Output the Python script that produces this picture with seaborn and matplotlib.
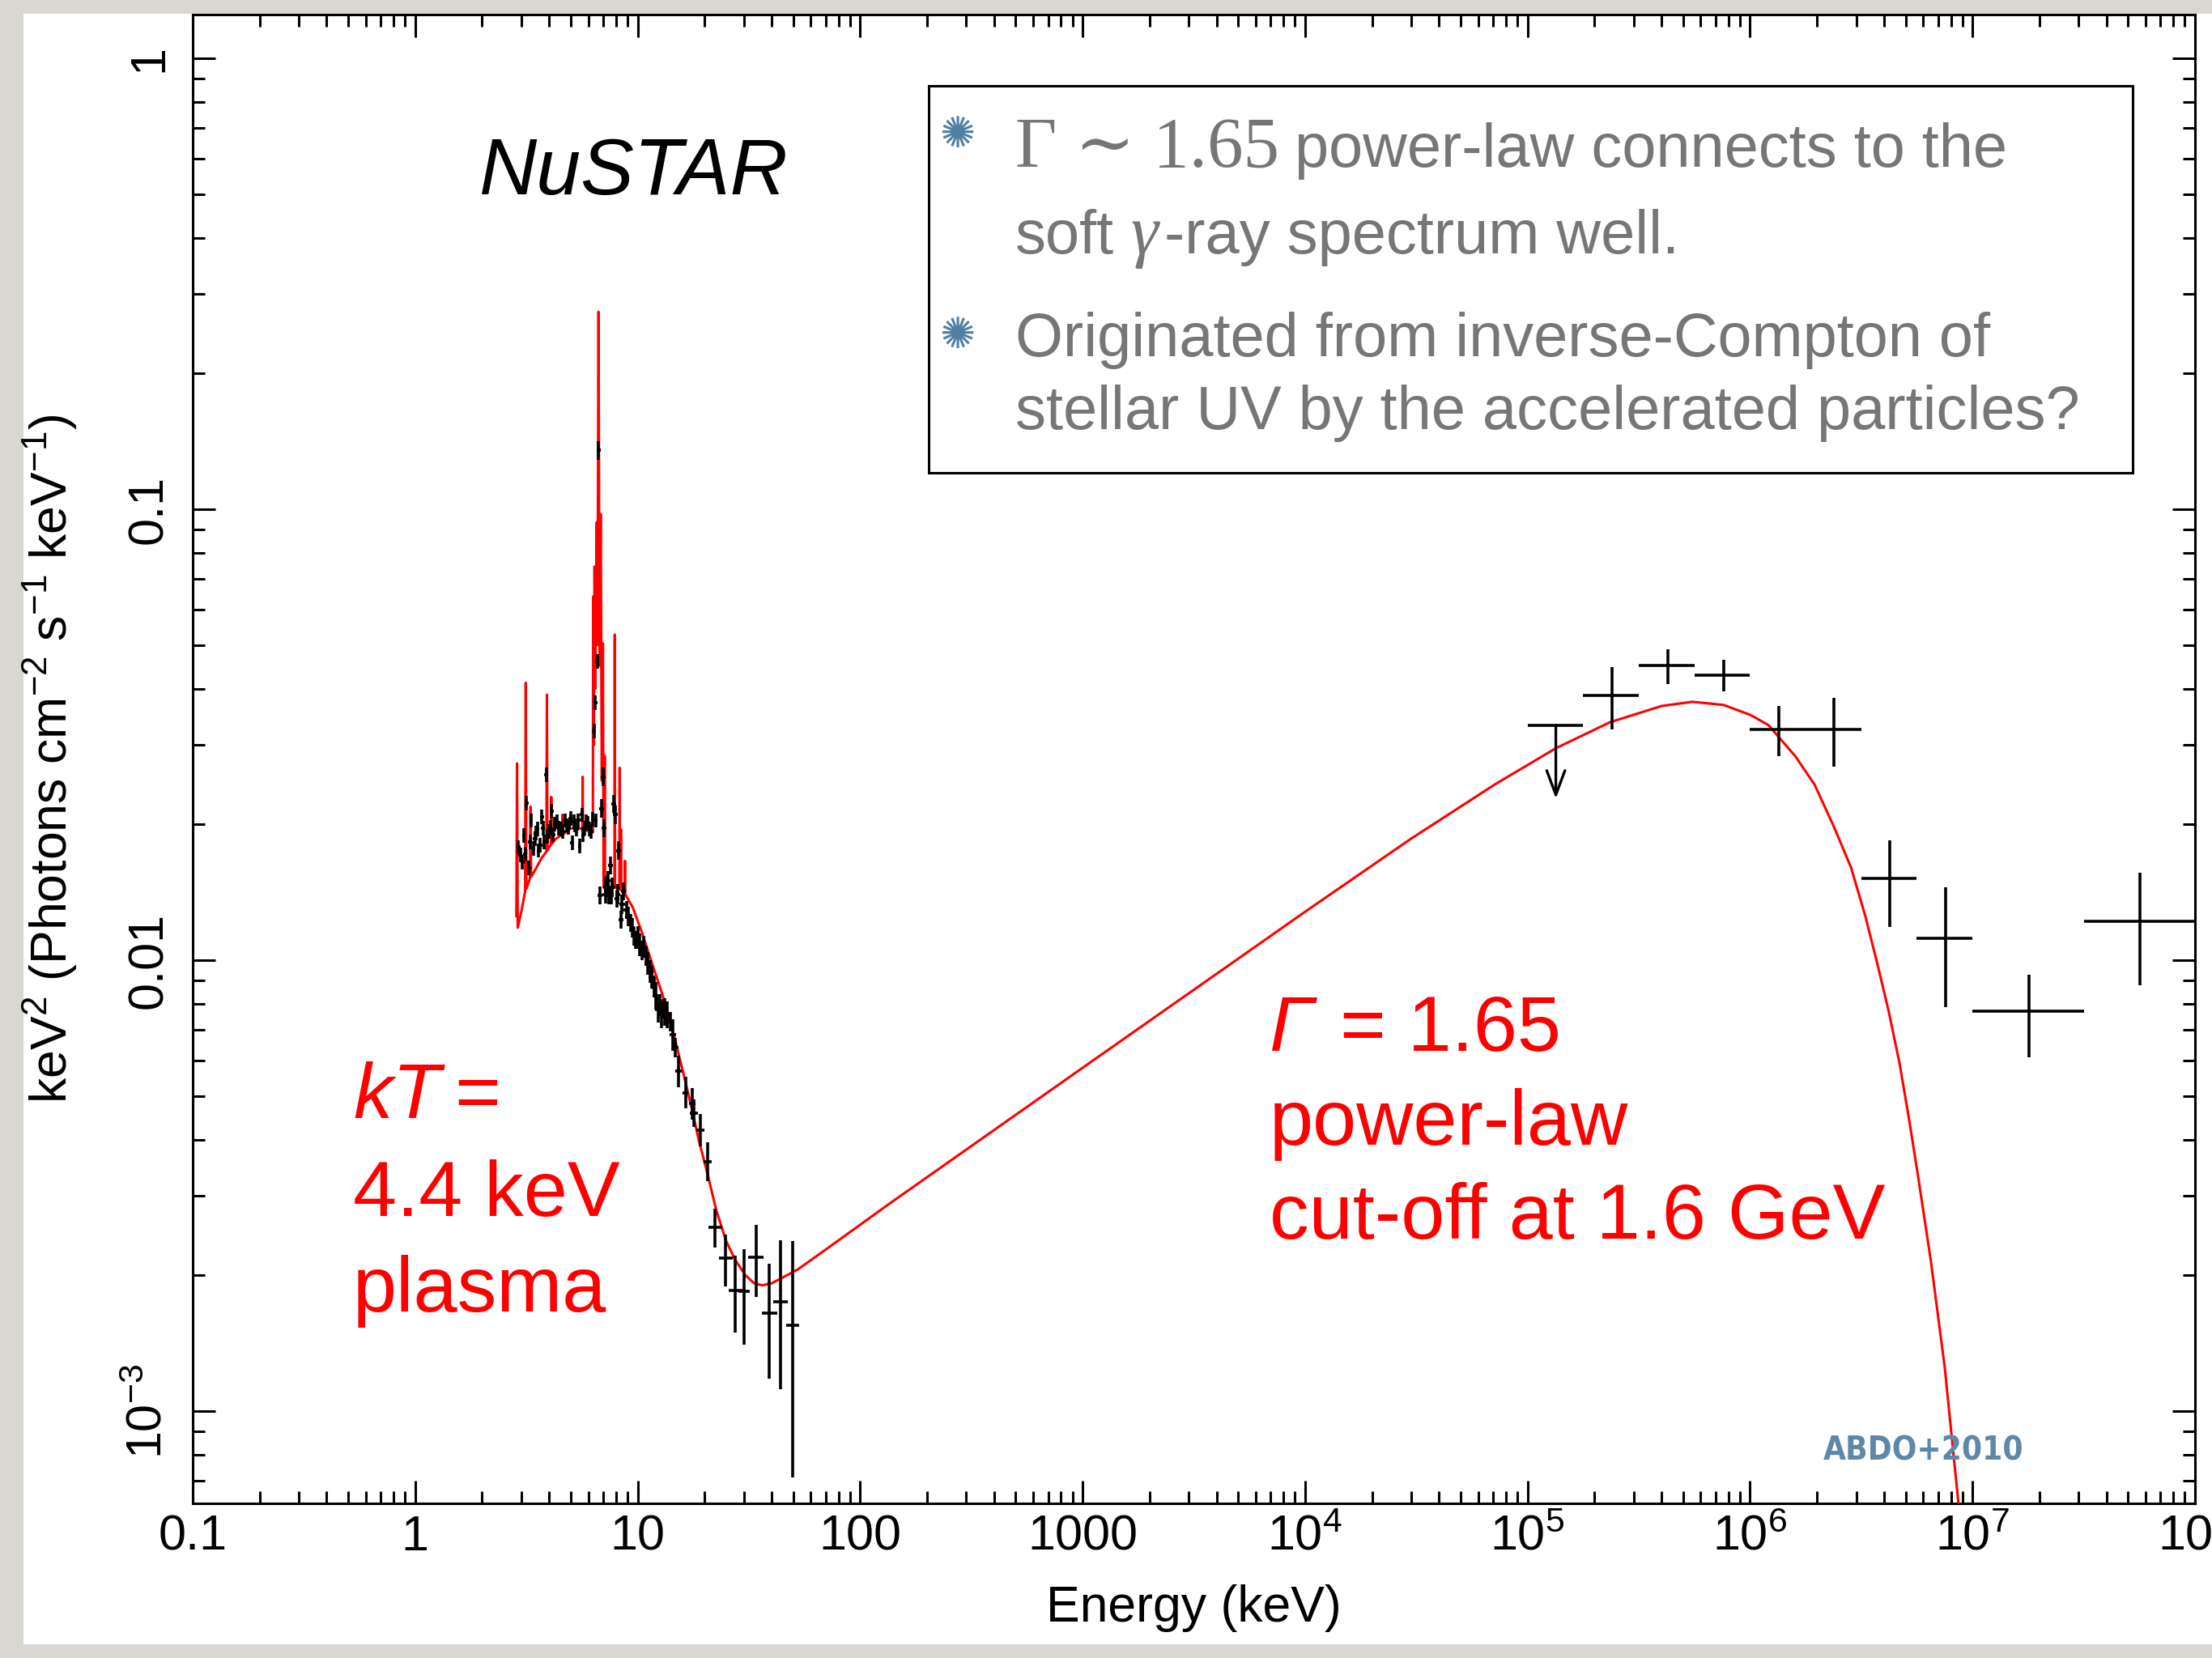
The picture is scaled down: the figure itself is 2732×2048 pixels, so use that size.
import numpy as np
import pandas as pd
import matplotlib
matplotlib.use("Agg")
import matplotlib.pyplot as plt
import seaborn as sns
from matplotlib import ticker, font_manager
from matplotlib.patches import Rectangle

# ---------------- data ----------------
# NuSTAR spectrum, module A (keV, keV^2 photons cm^-2 s^-1 keV^-1)
nu_E = [2.91, 2.97, 3.08, 3.17, 3.24, 3.32, 3.40, 3.49, 3.59, 3.71, 3.80, 3.88, 3.99, 4.10,
        4.25, 4.43, 4.61, 4.81, 4.99, 5.09, 5.24, 5.49, 5.61, 5.77, 5.97, 6.19, 6.37, 6.45,
        6.49, 6.58, 6.67, 6.78, 6.91, 6.98, 7.08, 7.15, 7.31, 7.42, 7.52, 7.62, 7.80, 7.94,
        8.05, 8.24, 8.41, 8.65, 8.89, 9.27, 9.59, 9.80, 9.94, 10.2, 10.66, 11.1, 11.4, 11.6,
        12.1, 12.4, 12.8, 13.2, 13.6, 14.4, 15.3, 16.4, 17.6, 17.9, 19.2, 20.6, 22.3, 24.9,
        27.5, 30.1, 34.0, 39.1, 43.9, 49.6]
nu_F = [0.0178, 0.0171, 0.0189, 0.0223, 0.0160, 0.0204, 0.0177, 0.0191, 0.0175, 0.0208,
        0.0183, 0.0258, 0.0193, 0.0214, 0.0200, 0.0196, 0.0193, 0.0199, 0.0206, 0.0182,
        0.0199, 0.0179, 0.0210, 0.0196, 0.0201, 0.0193, 0.0322, 0.0372, 0.0204, 0.0459,
        0.135, 0.0139, 0.0217, 0.0255, 0.0196, 0.0140, 0.0147, 0.0139, 0.0162, 0.0139,
        0.0222, 0.0210, 0.0137, 0.0175, 0.0123, 0.0142, 0.0129, 0.0121, 0.0113, 0.0111,
        0.0111, 0.0108, 0.0107, 0.00984, 0.00944, 0.00918, 0.00834, 0.00778, 0.00757,
        0.00768, 0.00757, 0.00683, 0.00567, 0.00508, 0.00480, 0.00458, 0.00419, 0.00357,
        0.00256, 0.00218, 0.00185, 0.00184, 0.00219, 0.00165, 0.00175, 0.00155]
# half bin widths (dex) and error bar extents (dex)
nu_dlogE = ([0.009] * 31 + [0.011] * 20 + [0.014] * 14 + [0.018] * 3 +
            [0.030, 0.030, 0.030, 0.027, 0.036, 0.034, 0.033, 0.029])
nu_dlogF_up = ([0.016] * 30 + [0.02] + [0.02] * 20 + [0.025] * 5 + [0.03] * 5 + [0.035] * 4 +
               [0.031, 0.036, 0.043, 0.040, 0.053, 0.077, 0.095, 0.072, 0.110, 0.135, 0.186])
nu_dlogF_dn = ([0.016] * 30 + [0.02] + [0.02] * 20 + [0.025] * 5 + [0.03] * 5 + [0.035] * 4 +
               [0.031, 0.036, 0.043, 0.045, 0.063, 0.093, 0.118, 0.088, 0.145, 0.195, 0.337])

# NuSTAR module B (dense band, 3-15 keV)
fpmb_E = [3.03, 3.13, 3.28, 3.45, 3.54, 3.65, 3.75, 3.94, 4.05, 4.17, 4.34, 4.52, 4.71, 4.90,
          5.16, 5.33, 5.41, 5.69, 5.87, 6.08, 6.28, 7.20, 7.37, 7.70, 8.15, 8.52, 9.05, 9.45,
          10.0, 10.45, 10.9, 11.85, 12.6, 13.0, 14.0, 14.8]
fpmb_F = [0.0165, 0.0172, 0.0183, 0.0186, 0.0195, 0.0180, 0.0196, 0.0188, 0.0197, 0.0190,
          0.0203, 0.0195, 0.0204, 0.0197, 0.0203, 0.0195, 0.0204, 0.0190, 0.0203, 0.0195,
          0.0205, 0.0145, 0.0150, 0.0145, 0.0140, 0.0133, 0.0125, 0.0118, 0.0113, 0.0105,
          0.0102, 0.0087, 0.0080, 0.0078, 0.0073, 0.0064]
fpmb_dlogE = [0.009] * 21 + [0.012] * 15
fpmb_dlogF = [0.016] * 21 + [0.022] * 15

# Fermi-LAT points
fermi_E = [2.40e5, 4.28e5, 7.6e5, 1.35e6, 2.39e6, 4.26e6, 7.56e6, 1.80e7, 5.65e7]
fermi_Elo = [1.78e5, 3.16e5, 5.62e5, 1.0e6, 1.78e6, 3.16e6, 5.62e6, 1.0e7, 3.16e7]
fermi_Ehi = [3.16e5, 5.62e5, 1.0e6, 1.78e6, 3.16e6, 5.62e6, 1.0e7, 3.16e7, 1.0e8]
fermi_F = [0.0387, 0.0450, 0.0429, 0.0325, 0.0325, 0.0152, 0.0112, 0.00769, 0.01221]
fermi_Flo = [0.0325, 0.0409, 0.0394, 0.0283, 0.0268, 0.01186, 0.00785, 0.00608, 0.00881]
fermi_Fhi = [0.0447, 0.0490, 0.0464, 0.0366, 0.0381, 0.01845, 0.01452, 0.00927, 0.01563]
# upper limit
ul_E, ul_Elo, ul_Ehi = 1.34e5, 1.0e5, 1.78e5
ul_F, ul_Ftip = 0.0332, 0.0228

# model curve (red)
model_E = [2.85, 2.87, 2.89, 3.0, 3.12, 3.14, 3.16, 3.21, 3.28, 3.30, 3.32, 3.5, 3.69, 3.89,
           3.91, 3.93, 4.0, 4.07, 4.09, 4.11, 4.25, 4.57, 4.59, 4.61, 5.02, 5.5, 5.64, 5.66,
           5.68, 6.10, 6.29, 6.31, 6.36, 6.40, 6.45, 6.55, 6.60, 6.67, 6.74, 6.82, 6.90, 6.98,
           7.03, 7.09, 7.11, 7.13, 7.5, 7.87, 7.89, 7.91, 8.0, 8.28, 8.30, 8.32, 8.39, 8.41,
           8.43, 8.65, 8.75, 8.77, 8.79, 9.5, 10.4, 11.6, 12.97, 14.5, 16.2, 17.4, 18.8, 20.6,
           22.6, 25.0, 27.5, 30.5, 33.4, 36.3, 40.0, 44.3, 52.4, 70.0, 135.0, 1.0e3, 1.0e4,
           3.0e4, 7.2e4, 1.34e5, 2.35e5, 4.0e5, 5.5e5, 7.6e5, 1.0e6, 1.21e6, 1.6e6, 1.95e6,
           2.4e6, 2.85e6, 3.3e6, 3.7e6, 4.2e6, 4.7e6, 5.2e6, 5.7e6, 6.5e6, 7.5e6, 8.6e6, 9.5e6]
model_F = [0.0125, 0.0273, 0.0118, 0.0128, 0.0142, 0.0412, 0.0144, 0.0147, 0.0152, 0.0219,
           0.0153, 0.0160, 0.0168, 0.0174, 0.0388, 0.0175, 0.0178, 0.0180, 0.0230, 0.0181,
           0.0185, 0.0190, 0.0210, 0.0190, 0.0196, 0.0196, 0.0195, 0.0255, 0.0195, 0.0193,
           0.0192, 0.064, 0.030, 0.0746, 0.040, 0.0936, 0.050, 0.274, 0.045, 0.0975, 0.025,
           0.0504, 0.0145, 0.0145, 0.0284, 0.0145, 0.0145, 0.0145, 0.0527, 0.0145, 0.0145,
           0.0144, 0.0267, 0.0144, 0.0144, 0.0195, 0.0143, 0.0142, 0.0141, 0.0166, 0.0140,
           0.0131, 0.0116, 0.00984, 0.00834, 0.00687, 0.0055, 0.00475, 0.0040, 0.00336,
           0.00278, 0.00238, 0.00216, 0.00200, 0.00192, 0.00190, 0.00192, 0.00197, 0.00206,
           0.00228, 0.00288, 0.00577, 0.0128, 0.0186, 0.0246, 0.0295, 0.0337, 0.0366, 0.0374,
           0.0368, 0.0350, 0.0332, 0.0283, 0.0245, 0.0196, 0.0160, 0.0125, 0.0100, 0.0077,
           0.0059, 0.0044, 0.0033, 0.00215, 0.00125, 0.00064, 0.00035]

x_tick_vals = [0.1, 1, 10, 100, 1000, 1e4, 1e5, 1e6, 1e7, 1e8]
x_tick_labels = ["0.1", "1", "10", "100", "1000", r"$10^{4}$", r"$10^{5}$", r"$10^{6}$",
                 r"$10^{7}$", r"$10^{8}$"]
y_tick_vals = [1e-3, 0.01, 0.1, 1]
y_tick_labels = [r"$10^{-3}$", "0.01", "0.1", "1"]

# ---------------- styling ----------------
sns.set_theme(style="ticks")
plt.rcParams["font.family"] = ["Liberation Sans", "DejaVu Sans"]
plt.rcParams["mathtext.fontset"] = "custom"
plt.rcParams["mathtext.rm"] = "Liberation Sans"
plt.rcParams["mathtext.it"] = "Liberation Sans:italic"
plt.rcParams["mathtext.bf"] = "Liberation Sans:bold"

# condensed bold face for the citation, if one is installed
abdo_kw = dict(family=["Liberation Sans", "DejaVu Sans"], fontsize=28)
for f in font_manager.fontManager.ttflist:
    if f.name == "Liberation Sans Narrow":
        abdo_kw = dict(family=["Liberation Sans Narrow", "DejaVu Sans"], fontsize=35)
        break
    if f.name == "DejaVu Sans" and f.stretch == "condensed" and f.weight in (700, "bold"):
        abdo_kw = dict(family=["DejaVu Sans"], fontstretch="condensed", fontsize=29)

W, H = 2732, 2048
fig = plt.figure(figsize=(W / 100, H / 100), dpi=100, facecolor="#d9d7d2")


def fx(x):
    return x / W


def fy(y):
    return 1 - y / H


fig.patches.append(Rectangle((fx(29), fy(2031)), 1 - fx(29), fy(17) - fy(2031),
                             transform=fig.transFigure, facecolor="white",
                             edgecolor="none", zorder=-5))

ax = fig.add_axes([fx(238), fy(1857), fx(2711) - fx(238), fy(18) - fy(1857)])
ax.set_facecolor("white")
ax.set_xscale("log")
ax.set_yscale("log")
ax.set_xlim(0.1, 1e8)
ax.set_ylim(6.24e-4, 1.25)

# model
model_df = pd.DataFrame({"E": model_E, "F": model_F})
sns.lineplot(data=model_df, x="E", y="F", ax=ax, color="#ff0000", lw=2.2,
             sort=False, estimator=None, zorder=3, legend=False)

LW = 2.6
# NuSTAR data
for Es, Fs, dle, dfu, dfd in [(nu_E, nu_F, nu_dlogE, nu_dlogF_up, nu_dlogF_dn),
                              (fpmb_E, fpmb_F, fpmb_dlogE, fpmb_dlogF, fpmb_dlogF)]:
    E = np.array(Es)
    F = np.array(Fs)
    xerr = [E * (1 - 10 ** -np.array(dle)), E * (10 ** np.array(dle) - 1)]
    yerr = [F * (1 - 10 ** -np.array(dfd)), F * (10 ** np.array(dfu) - 1)]
    ax.errorbar(E, F, xerr=xerr, yerr=yerr, fmt="none", ecolor="black", elinewidth=LW,
                capsize=0, zorder=4)

# Fermi data
fE = np.array(fermi_E)
fF = np.array(fermi_F)
ax.errorbar(fE, fF,
            xerr=[fE - np.array(fermi_Elo), np.array(fermi_Ehi) - fE],
            yerr=[fF - np.array(fermi_Flo), np.array(fermi_Fhi) - fF],
            fmt="none", ecolor="black", elinewidth=LW, capsize=0, zorder=4)
ax.errorbar([ul_E], [ul_F], xerr=[[ul_E - ul_Elo], [ul_Ehi - ul_E]], fmt="none",
            ecolor="black", elinewidth=LW, capsize=0, zorder=4)
ax.annotate("", xy=(ul_E, ul_Ftip), xytext=(ul_E, ul_F),
            arrowprops=dict(arrowstyle="->,head_length=0.8,head_width=0.3", lw=2.4,
                            color="black", shrinkA=0, shrinkB=0, mutation_scale=27),
            zorder=4)

# axes cosmetics
for s in ax.spines.values():
    s.set_linewidth(2.2)
    s.set_color("black")
ax.xaxis.set_major_locator(ticker.FixedLocator(x_tick_vals))
ax.xaxis.set_major_formatter(ticker.FixedFormatter(x_tick_labels))
ax.xaxis.set_minor_locator(ticker.LogLocator(base=10, subs=np.arange(2, 10), numticks=30))
ax.xaxis.set_minor_formatter(ticker.NullFormatter())
ax.yaxis.set_major_locator(ticker.FixedLocator(y_tick_vals))
ax.yaxis.set_major_formatter(ticker.FixedFormatter(y_tick_labels))
ax.yaxis.set_minor_locator(ticker.LogLocator(base=10, subs=np.arange(2, 10), numticks=30))
ax.yaxis.set_minor_formatter(ticker.NullFormatter())
ax.tick_params(which="both", direction="in", top=True, right=True, color="black",
               width=2.2, labelcolor="black")
ax.tick_params(which="major", length=20, labelsize=44)
ax.tick_params(which="minor", length=10.5)
ax.tick_params(axis="x", which="major", pad=10)
ax.tick_params(axis="y", which="major", pad=18, labelrotation=90)
for lab in ax.get_yticklabels():
    lab.set_va("center")

ax.set_xlabel("Energy (keV)", fontsize=45, color="black", va="baseline")
ax.xaxis.set_label_coords(0.5, (1857 - 2003) / (1857 - 18))
ax.set_ylabel(r"keV$^2$ (Photons cm$^{-2}$ s$^{-1}$ keV$^{-1}$)", fontsize=45,
              color="black", va="baseline")
ax.yaxis.set_label_coords((83 - 238) / (2711 - 238), 0.5)

# annotations
fig.text(fx(592), fy(240), "NuSTAR", fontsize=71, style="italic", color="black",
         va="baseline", ha="left")

red = "#ff0000"
RS = 70
fig.text(fx(436), fy(1381), "kT", fontsize=RS, style="italic", color=red, va="baseline")
fig.text(fx(561), fy(1381), "=", fontsize=RS, color=red, va="baseline")
fig.text(fx(436), fy(1502), "4.4 keV", fontsize=RS, color=red, va="baseline")
fig.text(fx(436), fy(1620), "plasma", fontsize=RS, color=red, va="baseline")

fig.text(fx(1568), fy(1298), "\u0393", fontsize=RS, style="italic", color=red, va="baseline")
fig.text(fx(1655), fy(1298), "= 1.65", fontsize=RS, color=red, va="baseline")
fig.text(fx(1568), fy(1414), "power-law", fontsize=RS, color=red, va="baseline")
fig.text(fx(1568), fy(1530), "cut-off at 1.6 GeV", fontsize=RS, color=red, va="baseline")

fig.text(fx(2252), fy(1803), "ABDO+2010", fontweight="bold", color="#5f88a8",
         va="baseline", **abdo_kw)

# text box
fig.patches.append(Rectangle((fx(1147), fy(584)), fx(2634) - fx(1147), fy(106) - fy(584),
                             transform=fig.transFigure, facecolor="white",
                             edgecolor="black", lw=2.2, zorder=5))
gray = "#767676"
blue = "#4f7fa3"
serif = ["Liberation Serif", "DejaVu Serif"]
BS = 54.5
fig.text(fx(1182), fy(167), "\u273a", fontsize=38, color=blue, ha="center", va="center",
         family=["DejaVu Sans"], zorder=6)
fig.text(fx(1182), fy(415), "\u273a", fontsize=38, color=blue, ha="center", va="center",
         family=["DejaVu Sans"], zorder=6)
fig.text(fx(1254), fy(206), "\u0393 \u223c 1.65", fontsize=64, color=gray, family=serif,
         va="baseline", zorder=6)
fig.text(fx(1599), fy(206), "power-law connects to the", fontsize=BS, color=gray,
         va="baseline", zorder=6)
fig.text(fx(1254), fy(313), "soft", fontsize=BS, color=gray, va="baseline", zorder=6)
fig.text(fx(1396), fy(313), "\u03b3", fontsize=62, color=gray, family=serif,
         style="italic", va="baseline", zorder=6)
fig.text(fx(1438), fy(313), "-ray spectrum well.", fontsize=BS, color=gray,
         va="baseline", zorder=6)
fig.text(fx(1254), fy(440), "Originated from inverse-Compton of", fontsize=BS, color=gray,
         va="baseline", zorder=6)
fig.text(fx(1254), fy(530), "stellar UV by the accelerated particles?", fontsize=BS,
         color=gray, va="baseline", zorder=6)

fig.savefig("out.png", dpi=100, facecolor=fig.get_facecolor())
